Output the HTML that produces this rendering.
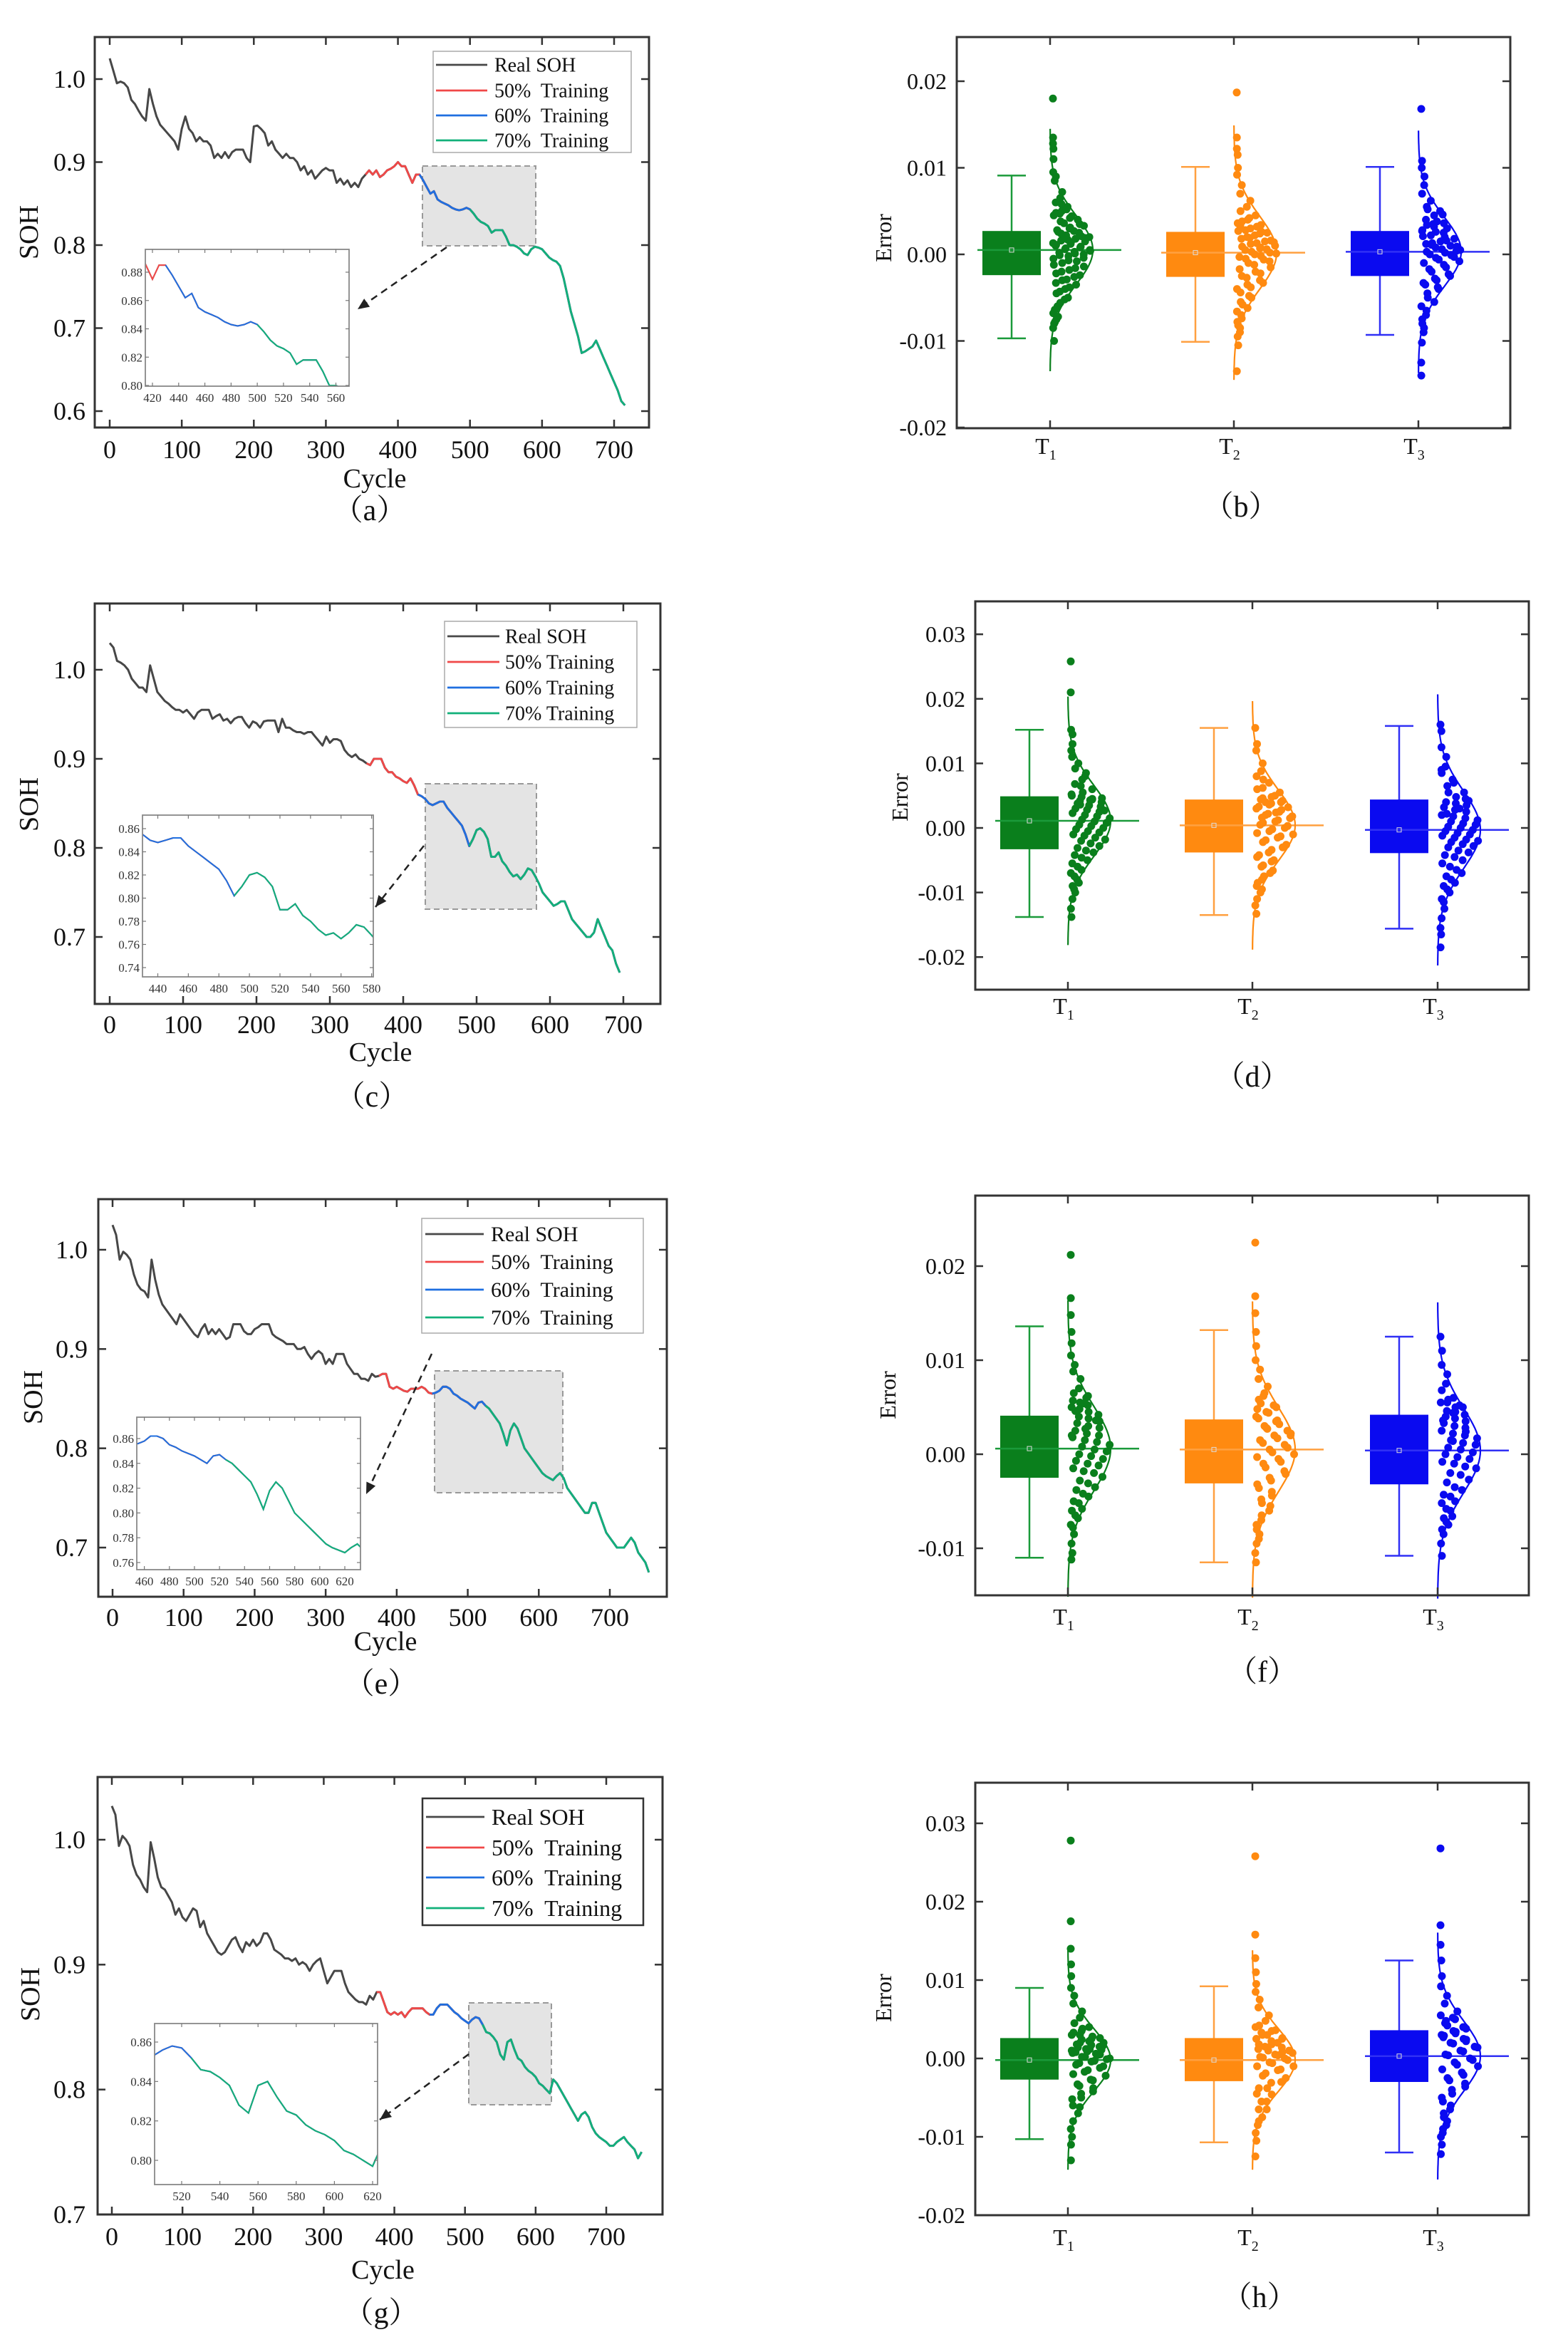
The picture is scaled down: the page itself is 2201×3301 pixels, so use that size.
<!DOCTYPE html>
<html><head><meta charset="utf-8"><title>SOH prediction and error distribution</title>
<style>
html,body{margin:0;padding:0;background:#fff;}
svg{display:block;font-family:"Liberation Serif","Noto Serif CJK SC",serif;}
</style></head>
<body>
<svg id="fig" width="2201" height="3301" viewBox="0 0 2201 3301" xmlns="http://www.w3.org/2000/svg"></svg>
<script>
// ---------- DATA (SOH in thousandths, one value every 5 cycles) ----------
const cycleStep = 5;
const sohA = [1025,1010,995,997,995,990,975,970,962,955,950,988,970,955,945,940,935,930,925,915,940,955,940,935,925,930,925,925,920,905,910,905,912,905,912,915,915,915,905,900,943,944,940,935,920,925,915,910,905,910,905,905,900,890,895,885,890,880,885,890,893,890,890,875,880,873,878,870,875,870,880,885,890,885,890,882,885,890,892,895,900,895,895,885,875,885,885,878,870,862,865,855,852,850,848,845,843,842,843,845,843,838,832,828,826,823,815,818,818,818,810,800,800,798,795,790,788,795,798,797,795,790,785,782,780,775,760,740,720,705,690,670,672,675,678,685,675,665,655,645,635,625,612,607];
const sohC = [1030,1025,1010,1008,1005,1000,990,985,980,980,975,1005,990,975,970,965,962,958,955,955,952,955,950,945,952,955,955,955,945,948,950,943,945,940,945,947,947,940,935,942,940,935,942,943,943,943,930,945,935,935,932,930,930,928,930,930,925,920,915,925,918,922,922,920,910,905,902,905,900,898,895,893,900,900,900,890,885,885,880,878,875,873,878,870,860,858,855,850,848,850,852,852,845,840,835,830,825,815,802,810,820,822,818,810,790,790,795,785,780,773,768,770,765,770,777,775,768,760,750,745,740,735,737,740,740,730,720,715,710,705,700,700,705,720,710,700,690,685,670,660];
const sohE = [1025,1015,990,998,995,990,975,965,960,958,952,990,970,955,945,940,935,930,925,935,930,925,920,915,912,920,925,915,920,915,920,915,910,912,925,925,925,918,915,915,920,922,925,925,925,915,912,910,908,905,905,905,900,900,902,895,890,895,898,895,885,890,885,895,895,895,885,880,875,875,870,870,868,875,872,873,875,875,862,860,862,860,858,857,860,860,860,862,860,856,855,856,858,862,862,860,855,853,850,848,846,843,840,846,847,843,840,835,830,825,815,803,818,825,820,810,800,795,790,785,780,775,772,770,768,772,775,770,760,755,750,745,740,735,735,745,745,735,725,715,710,705,700,700,700,705,710,705,695,690,685,675];
const sohG = [1027,1020,995,1003,1000,995,980,972,968,962,958,998,985,970,962,960,955,950,940,945,938,935,940,945,943,930,935,925,920,915,910,908,910,915,920,922,915,910,918,915,920,915,918,925,925,920,912,910,908,905,905,903,905,900,902,900,895,900,903,905,895,885,890,895,895,895,885,878,875,872,870,870,868,875,872,878,878,870,862,860,862,860,862,858,862,865,865,865,865,862,860,860,865,868,868,868,865,862,860,857,855,853,856,858,857,852,846,845,842,838,828,824,838,840,832,825,823,818,815,813,810,805,803,800,797,808,805,800,795,790,785,780,775,780,782,778,770,765,762,760,758,755,755,758,760,762,758,755,752,745,750];
// prediction start cycles: [50%, 60%, 70%]
const startsA = [360,432,505];
const startsC = [355,425,495];
const startsE = [380,455,530];
const startsG = [378,455,530];

// ---------- DATA (errors in units of 1e-4) ----------
const categories = ["T1","T2","T3"];
// box stats per category: [q3, q1, whiskerHigh, whiskerLow, mean]
const boxB = [[27,-24,91,-97,5],[26,-26,101,-101,2],[27,-25,101,-93,3]];
const boxD = [[49,-33,152,-138,11],[44,-38,155,-135,4],[44,-39,158,-156,-3]];
const boxF = [[41,-25,136,-110,6],[37,-31,132,-115,5],[42,-32,125,-108,4]];
const boxH = [[26,-27,90,-103,-2],[26,-29,92,-107,-2],[36,-30,125,-120,3]];
const sdB = [40,42,40];
const sdD = [55,55,60];
const sdF = [45,45,45];
const sdH = [40,40,45];
const errB1 = [180,135,128,122,110,95,90,85,72,65,60,55,50,45,42,38,35,30,28,25,22,20,18,16,15,12,10,8,6,5,3,2,0,-2,-5,-8,-10,-14,-18,-22,-26,-30,-35,-40,-45,-52,-60,-68,-75,-80,-100,58,48,44,36,33,27,24,19,14,11,9,7,4,1,-1,-4,-7,-12,-16,-20,-24,-29,-33,-38,-43,-50,-56,-64,-72,-78,-85,52,47,40,31,26,21,17,13];
const errB2 = [187,135,122,115,100,92,80,70,62,55,50,45,40,36,32,28,25,22,18,15,12,10,8,5,2,0,-3,-6,-10,-15,-20,-25,-30,-35,-40,-48,-55,-62,-70,-78,-85,-95,-105,-135,38,34,30,27,24,20,16,13,9,6,3,1,-2,-5,-8,-12,-17,-22,-27,-33,-38,-44,-50,-58,-66,-74,-82,-90,42,33,26,19,14,7];
const errB3 = [168,108,100,90,80,70,62,55,50,45,40,36,32,28,25,22,18,15,12,10,8,5,2,0,-3,-6,-10,-15,-20,-25,-30,-35,-40,-50,-60,-70,-80,-90,-102,-125,-140,52,46,38,34,30,26,21,16,13,9,6,3,-1,-4,-8,-12,-17,-23,-28,-33,-38,-45,-55,-65,-75,-85,35,27,20,11,4];
const errD1 = [258,210,152,145,130,120,100,92,85,75,68,60,55,50,45,42,40,35,30,25,20,15,10,5,0,-5,-10,-15,-20,-28,-35,-42,-50,-60,-70,-80,-90,-100,-110,-125,-138,48,46,43,38,33,28,23,18,13,8,3,-2,-7,-12,-18,-24,-31,-38,-46,-55,-65,-75,-85,-95,110,80,65,52,44,36,27];
const errD2 = [155,130,120,100,88,80,70,62,55,48,44,40,36,30,25,20,15,10,5,0,-5,-10,-15,-22,-30,-38,-45,-52,-60,-70,-80,-90,-100,-110,-120,-133,46,42,38,33,28,22,18,12,8,3,-2,-8,-13,-19,-26,-34,-42,-50,-58,-66,-75,-85,-95,75,60,50,40,32,24,16];
const errD3 = [160,150,125,110,95,85,75,65,55,48,40,35,28,20,15,10,5,0,-5,-10,-15,-20,-25,-30,-38,-45,-55,-65,-75,-85,-95,-110,-125,-140,-155,-165,-185,45,38,32,25,18,12,7,2,-3,-8,-12,-18,-22,-28,-35,-42,-50,-60,-70,-80,-90,-100,-115,90,70,55,42,30,22];
const errF1 = [212,166,148,130,118,105,95,88,80,70,65,60,55,50,45,40,35,30,25,20,15,10,5,0,-5,-10,-15,-20,-28,-35,-42,-50,-58,-65,-75,-85,-95,-105,-112,57,52,48,42,38,33,28,22,18,13,8,3,-2,-7,-12,-18,-24,-31,-38,-45,-52,-60,-68,-78,62,54,46,36,27,20];
const errF2 = [225,168,150,130,115,100,90,80,72,65,58,52,45,40,35,30,25,20,15,10,5,0,-5,-10,-18,-25,-32,-40,-48,-55,-65,-75,-85,-95,-105,-115,54,50,44,38,32,27,22,17,12,7,2,-3,-8,-14,-21,-28,-36,-44,-52,-60,-70,-80,-90,62,48,36,28,20];
const errF3 = [125,110,95,85,75,68,60,55,50,45,40,35,30,25,20,15,10,5,0,-5,-10,-15,-22,-30,-38,-45,-52,-60,-68,-75,-85,-95,-108,58,55,50,46,42,38,33,28,22,17,12,7,2,-3,-8,-13,-20,-27,-35,-43,-50,-58,-66,-72,-80,52,44,36,24,14];
const errH1 = [278,175,140,120,105,90,80,70,60,52,45,40,35,30,25,20,16,12,8,5,2,0,-3,-6,-10,-15,-20,-28,-35,-42,-50,-60,-70,-80,-90,-100,-110,-130,38,33,28,24,20,17,14,11,9,7,4,2,-1,-4,-8,-12,-17,-22,-27,-33,-38,-45,-52,-62,30,26,22,18,15,12,10,6];
const errH2 = [258,158,128,110,95,85,75,65,55,48,42,36,30,25,20,15,10,5,2,0,-5,-10,-15,-22,-30,-38,-45,-55,-65,-75,-85,-95,-105,-125,40,35,30,26,22,18,14,10,7,4,1,-2,-6,-10,-14,-19,-25,-31,-38,-46,-55,-65,-80,33,25,18,12,8];
const errH3 = [268,170,145,125,105,92,80,70,60,52,45,40,35,30,25,20,15,10,5,0,-5,-10,-18,-25,-32,-40,-50,-60,-70,-80,-90,-100,-110,-122,55,50,42,38,34,29,24,19,14,9,4,-2,-8,-14,-21,-28,-36,-45,-55,-65,-75,-85,-95,48,40,32,27,22];
const xTicksMain = [0,100,200,300,400,500,600,700];

// ---------- LAYOUT ----------
const NS = "http://www.w3.org/2000/svg";
const svg = document.getElementById('fig');
function mk(tag, attrs, parent){ const e=document.createElementNS(NS,tag); for(const k in attrs) e.setAttribute(k,attrs[k]); (parent||svg).appendChild(e); return e; }
function lin(d0,p0,d1,p1){ return v => p0+(v-d0)*(p1-p0)/(d1-d0); }
function range(a,b,s){ const r=[]; for(let v=a; v<=b+1e-9; v+=s) r.push(+v.toFixed(4)); return r; }
const predColors = ['#f04848','#1f6fe0','#12b07a'];
const predNames = ['50%','60%','70%'];

const linePanels = [
 {id:'a', data:sohA, starts:startsA, box:[133,52,911,600], x:[0,154,700,862], y:[1.0,111,0.6,577], yt:[0.6,0.7,0.8,0.9,1.0],
  legend:{x:608,y:72,w:278,h:142,rows:[91,127,162,197],l0:612,l1:684,tx:694,fs:28,stroke:'#aaa',sw:1.5,sp:'  '},
  gray:[593,233,752,345], inset:{box:[204,350,490,542], x:[420,214,560,471.5], y:[0.88,382,0.80,541], xt:range(420,560,20), yt:range(0.80,0.88,0.02)},
  arrow:[627,347,502,434], soh:[40,326], tickY:643, cyc:684, lab:[519,730], ylx:120},
 {id:'c', data:sohC, starts:startsC, box:[133,847,927,1409], x:[0,154,700,875], y:[1.0,940,0.7,1315], yt:[0.7,0.8,0.9,1.0],
  legend:{x:624,y:872,w:270,h:149,rows:[893,929,965,1001],l0:628,l1:701,tx:709,fs:28,stroke:'#aaa',sw:1.5,sp:' '},
  gray:[597,1100,753,1276], inset:{box:[200,1144,524,1371], x:[440,221.5,580,521.6], y:[0.86,1163,0.74,1358], xt:range(440,580,20), yt:range(0.74,0.86,0.02)},
  arrow:[595,1187,527,1273], soh:[40,1129], tickY:1450, cyc:1489, lab:[522,1553], ylx:120},
 {id:'e', data:sohE, starts:startsE, box:[138,1683,936,2241], x:[0,158,700,856], y:[1.0,1754,0.7,2172], yt:[0.7,0.8,0.9,1.0],
  legend:{x:592,y:1710,w:311,h:161,rows:[1732,1771,1810,1849],l0:597,l1:679,tx:689,fs:30,stroke:'#aaa',sw:1.5,sp:'  '},
  gray:[610,1924,790,2095], inset:{box:[192,1989,506,2203], x:[460,202.6,620,484], y:[0.86,2019,0.76,2193], xt:range(460,620,20), yt:range(0.76,0.86,0.02)},
  arrow:[606,1900,514,2097], soh:[46,1961], tickY:2282, cyc:2316, lab:[535,2377], ylx:123},
 {id:'g', data:sohG, starts:startsG, box:[137,2494,930,3108], x:[0,157,700,851], y:[1.0,2582,0.7,3108], yt:[0.7,0.8,0.9,1.0],
  legend:{x:593,y:2524,w:310,h:178,rows:[2550,2593,2635,2678],l0:598,l1:680,tx:690,fs:32,stroke:'#333',sw:2.5,sp:'  '},
  gray:[658,2811,774,2954], inset:{box:[217,2840,530,3066], x:[520,255,620,523], y:[0.86,2866,0.80,3032], xt:range(520,620,20), yt:range(0.80,0.86,0.02)},
  arrow:[658,2883,533,2975], soh:[42,2799], tickY:3151, cyc:3198, lab:[535,3260], ylx:120}
];

function polyPts(data, from, to, X, Y){
  const pts=[];
  data.forEach((v,i)=>{ const c=i*cycleStep; if(c>=from-cycleStep && c<=to) pts.push(X(c).toFixed(1)+','+Y(v/1000).toFixed(1)); });
  return pts.join(' ');
}

linePanels.forEach(p=>{
  const g = mk('g',{});
  
  
  const X = lin(p.x[0],p.x[1],p.x[2],p.x[3]);
  const Y = lin(p.y[0],p.y[1],p.y[2],p.y[3]);
  const [x0,y0,x1,y1] = p.box;
  const lastC = (p.data.length-1)*cycleStep;
  const clipId='clip'+p.id;
  const cp = mk('clipPath',{id:clipId},g); mk('rect',{x:x0,y:y0,width:x1-x0,height:y1-y0},cp);
  const gr = mk('rect',{x:p.gray[0],y:p.gray[1],width:p.gray[2]-p.gray[0],height:p.gray[3]-p.gray[1],fill:'#e4e4e4',stroke:'#999','stroke-width':2,'stroke-dasharray':'8,5'},g);
  
  
  const real = mk('polyline',{points:polyPts(p.data,0,lastC,X,Y),fill:'none',stroke:'#474747','stroke-width':3,'stroke-linejoin':'round','clip-path':'url(#'+clipId+')'},g);
  
  
  p.starts.forEach((s,k)=>{
    const pl = mk('polyline',{points:polyPts(p.data,s,lastC,X,Y),fill:'none',stroke:predColors[k],'stroke-width':2.8,'stroke-linejoin':'round','clip-path':'url(#'+clipId+')'},g);
    
    
  });
  const fr = mk('rect',{x:x0,y:y0,width:x1-x0,height:y1-y0,fill:'none',stroke:'#333','stroke-width':3},g);
  
  
  xTicksMain.forEach(c=>{
    const xx=X(c);
    mk('line',{x1:xx,y1:y1,x2:xx,y2:y1-11,stroke:'#333','stroke-width':2.5},g);
    mk('line',{x1:xx,y1:y0,x2:xx,y2:y0+11,stroke:'#333','stroke-width':2.5},g);
    const t = mk('text',{x:xx,y:p.tickY,'font-size':36,'text-anchor':'middle',fill:'#111'},g);
    t.textContent=c;
    
    
  });
  p.yt.forEach(v=>{
    const yy=Y(v);
    mk('line',{x1:x0,y1:yy,x2:x0+11,y2:yy,stroke:'#333','stroke-width':2.5},g);
    mk('line',{x1:x1,y1:yy,x2:x1-11,y2:yy,stroke:'#333','stroke-width':2.5},g);
    const t = mk('text',{x:p.ylx,y:yy+12,'font-size':36,'text-anchor':'end',fill:'#111'},g);
    t.textContent=v.toFixed(1);
    
    
  });
  const ins=p.inset, [ix0,iy0,ix1,iy1]=ins.box;
  const IX=lin(ins.x[0],ins.x[1],ins.x[2],ins.x[3]), IY=lin(ins.y[0],ins.y[1],ins.y[2],ins.y[3]);
  const ig = mk('g',{},g);
  
  
  mk('rect',{x:ix0,y:iy0,width:ix1-ix0,height:iy1-iy0,fill:'#fff'},ig);
  const icp = mk('clipPath',{id:clipId+'i'},ig); mk('rect',{x:ix0,y:iy0,width:ix1-ix0,height:iy1-iy0},icp);
  const cMin=ins.x[0]-(ins.x[1]-ix0)/((ins.x[3]-ins.x[1])/(ins.x[2]-ins.x[0]));
  const cMax=ins.x[0]+(ix1-ins.x[1])/((ins.x[3]-ins.x[1])/(ins.x[2]-ins.x[0]));
  const ir = mk('polyline',{points:polyPts(p.data,cMin,cMax+cycleStep,IX,IY),fill:'none',stroke:'#777','stroke-width':2,'clip-path':'url(#'+clipId+'i)'},ig);
  
  
  p.starts.forEach((s,k)=>{
    const pl = mk('polyline',{points:polyPts(p.data,Math.max(s,cMin),cMax+cycleStep,IX,IY),fill:'none',stroke:predColors[k],'stroke-width':2,'clip-path':'url(#'+clipId+'i)'},ig);
    
    
  });
  mk('rect',{x:ix0,y:iy0,width:ix1-ix0,height:iy1-iy0,fill:'none',stroke:'#888','stroke-width':1.8},ig);
  ins.xt.forEach(c=>{
    const xx=IX(c);
    mk('line',{x1:xx,y1:iy1,x2:xx,y2:iy1-5,stroke:'#777','stroke-width':1.2},ig);
    mk('line',{x1:xx,y1:iy0,x2:xx,y2:iy0+5,stroke:'#777','stroke-width':1.2},ig);
    const t=mk('text',{x:xx,y:iy1+22,'font-size':17,'text-anchor':'middle',fill:'#333'},ig);
    t.textContent=c;
    
    
  });
  ins.yt.forEach(v=>{
    const yy=IY(v);
    mk('line',{x1:ix0,y1:yy,x2:ix0+5,y2:yy,stroke:'#777','stroke-width':1.2},ig);
    mk('line',{x1:ix1,y1:yy,x2:ix1-5,y2:yy,stroke:'#777','stroke-width':1.2},ig);
    const t=mk('text',{x:ix0-4,y:yy+6,'font-size':17,'text-anchor':'end',fill:'#333'},ig);
    t.textContent=v.toFixed(2);
    
    
  });
  const [ax0,ay0,ax1,ay1]=p.arrow;
  const ar = mk('line',{x1:ax0,y1:ay0,x2:ax1,y2:ay1,stroke:'#222','stroke-width':2.5,'stroke-dasharray':'10,7'},g);
  
  
  const ang=Math.atan2(ay1-ay0,ax1-ax0), L=16, W=7;
  const hx=ax1-L*Math.cos(ang), hy=ay1-L*Math.sin(ang);
  mk('polygon',{points:`${ax1},${ay1} ${hx-W*Math.sin(ang)},${hy+W*Math.cos(ang)} ${hx+W*Math.sin(ang)},${hy-W*Math.cos(ang)}`,fill:'#222'},g);
  const lg=p.legend;
  const lgG = mk('g',{},g);
  
  
  mk('rect',{x:lg.x,y:lg.y,width:lg.w,height:lg.h,fill:'#fff',stroke:lg.stroke,'stroke-width':lg.sw},lgG);
  const names=['Real SOH','50%'+lg.sp+'Training','60%'+lg.sp+'Training','70%'+lg.sp+'Training'];
  const cols=['#474747'].concat(predColors);
  names.forEach((n,k)=>{
    const ly=lg.rows[k];
    const ln=mk('line',{x1:lg.l0,y1:ly,x2:lg.l1,y2:ly,stroke:cols[k],'stroke-width':2.8},lgG);
    
    
    const t=mk('text',{x:lg.tx,y:ly+lg.fs*0.34,'font-size':lg.fs,fill:'#111',style:'white-space:pre'},lgG);
    t.textContent=n;
    
    
  });
  const sl=mk('text',{x:p.soh[0],y:p.soh[1],'font-size':38,'text-anchor':'middle',transform:`rotate(-90 ${p.soh[0]} ${p.soh[1]})`,dy:13,fill:'#111'},g);
  sl.textContent='SOH';
  
  
  const cl=mk('text',{x:(x0+x1)/2+4,y:p.cyc,'font-size':38,'text-anchor':'middle',fill:'#111'},g);
  cl.textContent='Cycle';
  
  
  const pl=mk('text',{x:p.lab[0],y:p.lab[1],'font-size':42,'text-anchor':'middle',fill:'#111'},g);
  pl.textContent='（'+p.id+'）';
  
  
});

// ---------- BOX / SCATTER PANELS ----------
const catColors=['#0a7f1c','#ff8a10','#0a0af0'];
const whiskColors=['#1a9a3a','#ffa040','#3030f5'];
const boxPanels=[
 {id:'b', stats:boxB, sd:sdB, err:[errB1,errB2,errB3], box:[1343,52,2120,601], ticks:[1474,1732,1991], y:[0,357,0.01,235.5], yt:[-0.02,-0.01,0,0.01,0.02], tLab:637, lab:[1742,725], et:[1240,334]},
 {id:'d', stats:boxD, sd:sdD, err:[errD1,errD2,errD3], box:[1369,844,2146,1389], ticks:[1499,1758,2018], y:[0,1162,0.01,1071.4], yt:[-0.02,-0.01,0,0.01,0.02,0.03], tLab:1423, lab:[1758,1525], et:[1263,1119]},
 {id:'f', stats:boxF, sd:sdF, err:[errF1,errF2,errF3], box:[1369,1678,2146,2239], ticks:[1499,1758,2018], y:[0,2041,0.01,1909], yt:[-0.01,0,0.01,0.02], tLab:2280, lab:[1772,2360], et:[1246,1958]},
 {id:'h', stats:boxH, sd:sdH, err:[errH1,errH2,errH3], box:[1369,2502,2146,3109], ticks:[1499,1758,2018], y:[0,2889,0.01,2779], yt:[-0.02,-0.01,0,0.01,0.02,0.03], tLab:3151, lab:[1768,3238], et:[1240,2804]}
];
boxPanels.forEach(p=>{
  const g=mk('g',{});
  
  
  const Y=lin(p.y[0],p.y[1],p.y[2],p.y[3]);
  const [x0,y0,x1,y1]=p.box;
  categories.forEach((cat,k)=>{
    const tx=p.ticks[k], st=p.stats[k], col=catColors[k], wc=whiskColors[k];
    const bc=tx-54, bw=82;
    const cg=mk('g',{},g);
    
    
    mk('line',{x1:bc,y1:Y(st[2]/1e4),x2:bc,y2:Y(st[3]/1e4),stroke:wc,'stroke-width':2.5},cg);
    mk('line',{x1:bc-20,y1:Y(st[2]/1e4),x2:bc+20,y2:Y(st[2]/1e4),stroke:wc,'stroke-width':2.5},cg);
    mk('line',{x1:bc-20,y1:Y(st[3]/1e4),x2:bc+20,y2:Y(st[3]/1e4),stroke:wc,'stroke-width':2.5},cg);
    const bx=mk('rect',{x:bc-bw/2,y:Y(st[0]/1e4),width:bw,height:Y(st[1]/1e4)-Y(st[0]/1e4),fill:col},cg);
    
    
    const ml=mk('line',{x1:bc-48,y1:Y(st[4]/1e4),x2:tx+100,y2:Y(st[4]/1e4),stroke:wc,'stroke-width':2.5},cg);
    
    
    mk('rect',{x:bc-3,y:Y(st[4]/1e4)-3,width:6,height:6,fill:'none',stroke:'#ddd','stroke-width':1},cg);
    const mu=st[4]/1e4, sd=p.sd[k]/1e4, pts=[];
    for(let i=0;i<=80;i++){ const v=mu-3.5*sd+i*7*sd/80; const d=Math.exp(-((v-mu)**2)/(2*sd*sd)); pts.push((tx+60*d).toFixed(1)+','+Y(v).toFixed(1)); }
    const cv=mk('polyline',{points:pts.join(' '),fill:'none',stroke:col,'stroke-width':2.2},cg);
    
    
    p.err[k].forEach((e,i)=>{
      const v=e/1e4, d=Math.exp(-((v-mu)**2)/(2*sd*sd));
      const frac=(i*0.618034)%1;
      const c=mk('circle',{cx:(tx+4+frac*56*d).toFixed(1),cy:Y(v).toFixed(1),r:5.5,fill:col},cg);
      
      
    });
    mk('line',{x1:tx,y1:y1,x2:tx,y2:y1-11,stroke:'#333','stroke-width':2.5},g);
    mk('line',{x1:tx,y1:y0,x2:tx,y2:y0+11,stroke:'#333','stroke-width':2.5},g);
    const t=mk('text',{x:tx-6,y:p.tLab,'font-size':32,'text-anchor':'middle',fill:'#111'},g);
    
    
    t.textContent='T';
    const sub=mk('tspan',{'font-size':20,dy:8},t); sub.textContent=cat.slice(1);
  });
  const fr=mk('rect',{x:x0,y:y0,width:x1-x0,height:y1-y0,fill:'none',stroke:'#333','stroke-width':3},g);
  
  
  p.yt.forEach(v=>{
    const yy=Y(v);
    mk('line',{x1:x0,y1:yy,x2:x0+11,y2:yy,stroke:'#333','stroke-width':2.5},g);
    mk('line',{x1:x1,y1:yy,x2:x1-11,y2:yy,stroke:'#333','stroke-width':2.5},g);
    const t=mk('text',{x:x0-14,y:yy+11,'font-size':32,'text-anchor':'end',fill:'#111'},g);
    t.textContent=v.toFixed(2);
    
    
  });
  const et=mk('text',{x:p.et[0],y:p.et[1],'font-size':32,'text-anchor':'middle',transform:`rotate(-90 ${p.et[0]} ${p.et[1]})`,dy:11,fill:'#111'},g);
  et.textContent='Error';
  
  
  const pl=mk('text',{x:p.lab[0],y:p.lab[1],'font-size':42,'text-anchor':'middle',fill:'#111'},g);
  pl.textContent='（'+p.id+'）';
  
  
});
</script>
</body></html>
